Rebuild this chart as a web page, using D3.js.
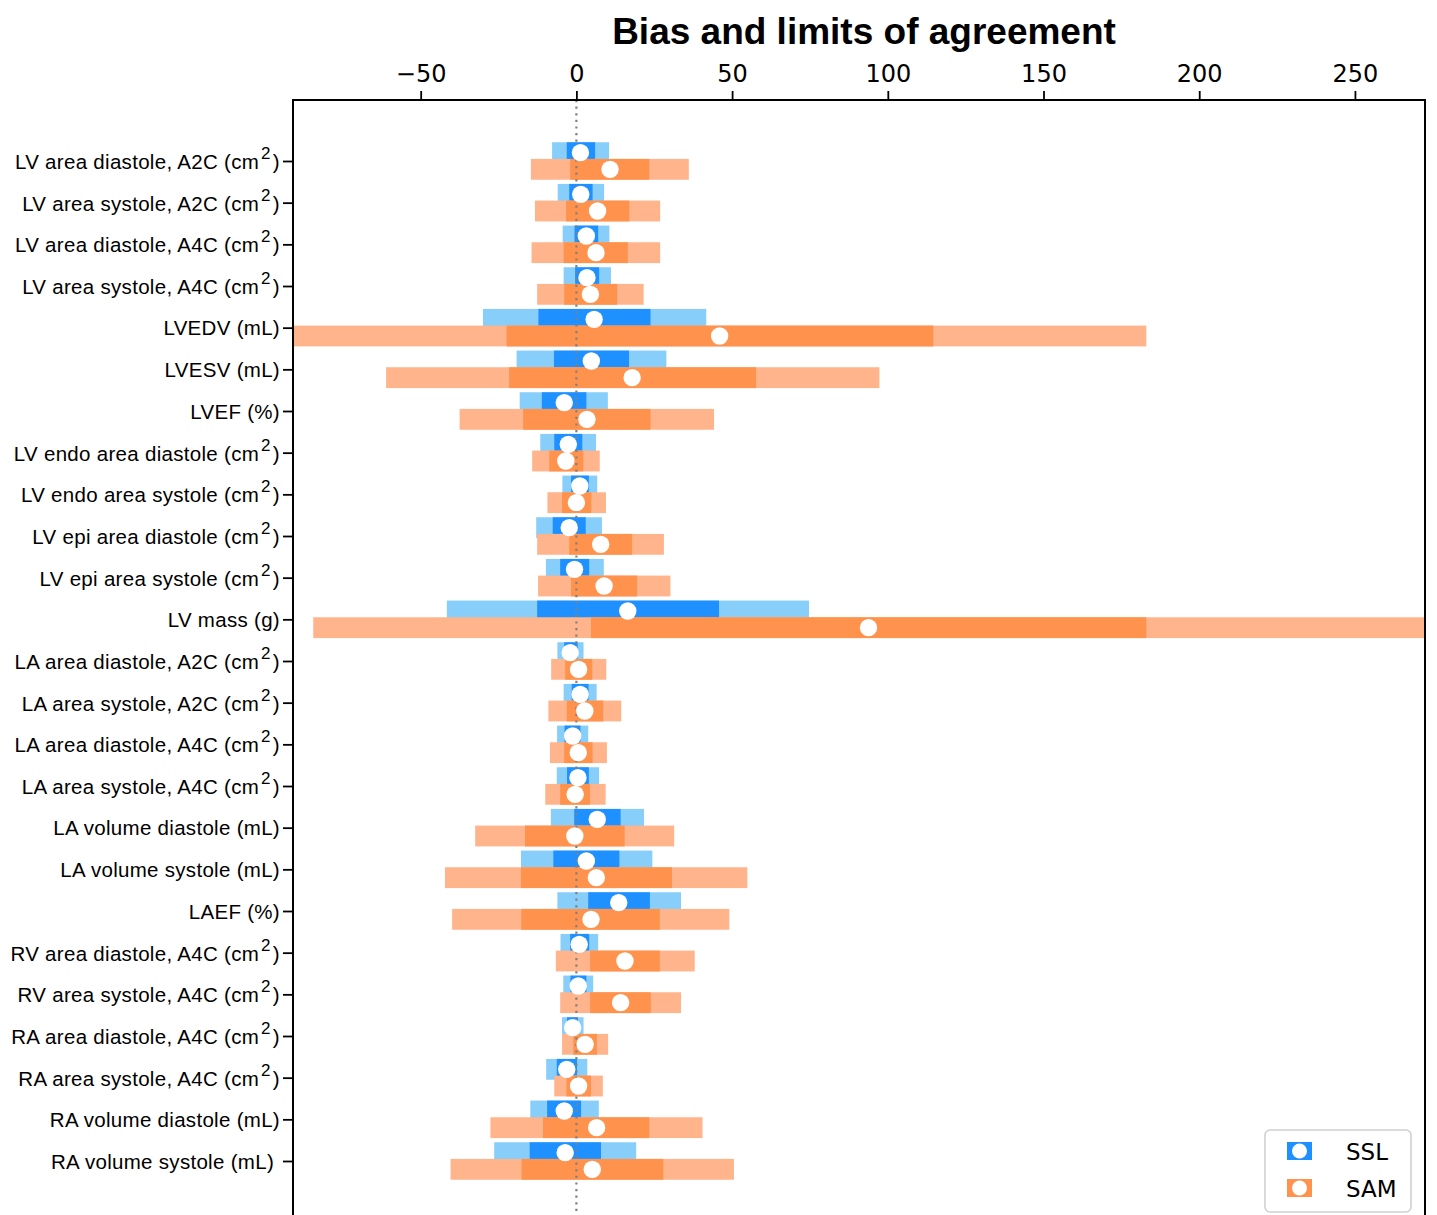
<!DOCTYPE html>
<html>
<head>
  <meta charset="utf-8">
  <title>Bias and limits of agreement</title>
  <script src="https://d3js.org/d3.v7.min.js"></script>
  <style>
    body { margin: 0; background: #fff; }
  </style>
</head>
<body>
  <script>
    // Measurements, top to bottom ("^2" marks a superscript)
    const categories = [
      "LV area diastole, A2C (cm^2)", "LV area systole, A2C (cm^2)",
      "LV area diastole, A4C (cm^2)", "LV area systole, A4C (cm^2)",
      "LVEDV (mL)", "LVESV (mL)", "LVEF (%)",
      "LV endo area diastole (cm^2)", "LV endo area systole (cm^2)",
      "LV epi area diastole (cm^2)", "LV epi area systole (cm^2)",
      "LV mass (g)",
      "LA area diastole, A2C (cm^2)", "LA area systole, A2C (cm^2)",
      "LA area diastole, A4C (cm^2)", "LA area systole, A4C (cm^2)",
      "LA volume diastole (mL)", "LA volume systole (mL)", "LAEF (%)",
      "RV area diastole, A4C (cm^2)", "RV area systole, A4C (cm^2)",
      "RA area diastole, A4C (cm^2)", "RA area systole, A4C (cm^2)",
      "RA volume diastole (mL)", "RA volume systole (mL) "
    ];

    // SSL: bias, inner band (dark) and limits of agreement (light)
    const sslMean    = [1.3, 1.4, 3.2, 3.4, 5.7, 4.8, -3.9, -2.6, 1.1, -2.3, -0.6, 16.5, -2.0, 1.2, -1.2, 0.5, 6.7, 3.2, 13.6, 0.9, 0.6, -1.2, -3.1, -3.9, -3.6];
    const sslInnerLo = [-3.1, -2.3, -0.6, -0.4, -12.2, -7.2, -11.1, -7.1, -1.7, -7.6, -5.2, -12.6, -3.9, -1.5, -3.8, -3.0, -0.7, -7.4, 3.8, -2.0, -1.9, -3.0, -6.3, -9.4, -15.0];
    const sslInnerHi = [6.0, 5.2, 7.0, 7.3, 23.8, 16.9, 3.2, 1.9, 4.0, 3.0, 4.1, 45.8, 0.4, 3.9, 1.3, 4.0, 14.2, 13.8, 23.6, 4.1, 3.2, 0.5, 0.2, 1.5, 7.9];
    const sslOuterLo = [-7.8, -6.0, -4.4, -4.1, -30.0, -19.2, -18.2, -11.6, -4.5, -12.9, -9.8, -41.6, -6.1, -4.1, -6.2, -6.3, -8.2, -17.8, -6.1, -5.1, -4.2, -4.6, -9.7, -14.8, -26.4];
    const sslOuterHi = [10.5, 8.9, 10.6, 11.1, 41.7, 28.9, 10.1, 6.3, 6.7, 8.2, 8.8, 74.7, 2.3, 6.5, 3.8, 7.3, 21.7, 24.4, 33.6, 7.0, 5.4, 2.3, 3.5, 7.2, 19.2];

    // SAM
    const samMean    = [10.8, 6.8, 6.3, 4.5, 46.0, 17.9, 3.4, -3.4, 0.0, 7.8, 8.9, 93.8, 0.7, 2.7, 0.6, -0.4, -0.5, 6.4, 4.7, 15.6, 14.2, 2.8, 0.7, 6.5, 5.1];
    const samInnerLo = [-2.0, -3.3, -4.1, -3.9, -22.4, -21.6, -17.1, -8.7, -4.6, -2.3, -1.7, 4.7, -3.6, -3.1, -3.9, -5.2, -16.5, -17.8, -17.7, 4.4, 4.4, -1.0, -3.2, -10.7, -17.6];
    const samInnerHi = [23.4, 17.0, 16.5, 13.1, 114.6, 57.7, 23.8, 2.2, 4.8, 17.9, 19.5, 183.0, 5.1, 8.6, 5.2, 4.4, 15.5, 30.7, 26.8, 26.8, 23.9, 6.6, 4.7, 23.4, 27.9];
    const samOuterLo = [-14.6, -13.3, -14.4, -12.6, -91.0, -61.1, -37.5, -14.2, -9.3, -12.6, -12.3, -84.5, -8.1, -9.0, -8.5, -10.0, -32.5, -42.2, -39.9, -6.6, -5.2, -4.6, -7.1, -27.6, -40.4];
    const samOuterHi = [36.1, 26.9, 26.9, 21.6, 183.0, 97.3, 44.2, 7.5, 9.5, 28.1, 30.2, 272.5, 9.6, 14.4, 9.8, 9.4, 31.4, 54.9, 49.1, 38.0, 33.6, 10.2, 8.5, 40.5, 50.6];

    const xTicks = [-50, 0, 50, 100, 150, 200, 250];

    const series = [
      { name: "SSL", offset: -0.2, dark: "#1e90ff", light: "#87cefa",
        mean: sslMean, innerLo: sslInnerLo, innerHi: sslInnerHi, outerLo: sslOuterLo, outerHi: sslOuterHi },
      { name: "SAM", offset: 0.2, dark: "#ff924c", light: "#ffb48b",
        mean: samMean, innerLo: samInnerLo, innerHi: samInnerHi, outerLo: samOuterLo, outerHi: samOuterHi }
    ];

    const W = 1437, H = 1215;
    const plotL = 293, plotR = 1425, plotT = 100, plotB = 1222;

    const svg = d3.select("body").append("svg")
      .attr("width", W).attr("height", H);

    const x = d3.scaleLinear().domain([-91, 272.5]).range([plotL, plotR]);
    const y = d3.scaleLinear().domain([-1.464, categories.length - 1 + 1.464]).range([plotT, plotB]);
    const barH = y(0.5) - y(0);

    svg.append("defs").append("clipPath").attr("id", "plot")
      .append("rect").attr("x", plotL).attr("y", plotT)
      .attr("width", plotR - plotL).attr("height", plotB - plotT);

    const plot = svg.append("g").attr("clip-path", "url(#plot)");

    // bars: light limits first, dark band on top, series in order
    series.forEach(function(s) {
      const rows = categories.map(function(c, i) { return i; });
      plot.append("g").selectAll("rect")
        .data(rows).enter().append("rect")
        .attr("x", function(i) { return x(s.outerLo[i]); })
        .attr("width", function(i) { return x(s.outerHi[i]) - x(s.outerLo[i]); })
        .attr("y", function(i) { return y(i + s.offset) - barH / 2; })
        .attr("height", barH)
        .attr("fill", s.light);
      plot.append("g").selectAll("rect")
        .data(rows).enter().append("rect")
        .attr("x", function(i) { return x(s.innerLo[i]); })
        .attr("width", function(i) { return x(s.innerHi[i]) - x(s.innerLo[i]); })
        .attr("y", function(i) { return y(i + s.offset) - barH / 2; })
        .attr("height", barH)
        .attr("fill", s.dark);
    });

    // zero line
    plot.append("line")
      .attr("x1", x(0)).attr("x2", x(0))
      .attr("y1", plotT).attr("y2", plotB)
      .attr("stroke", "#808080")
      .attr("stroke-width", 2.2)
      .attr("stroke-dasharray", "2.2,4.4");

    // bias markers
    series.forEach(function(s) {
      plot.append("g").selectAll("circle")
        .data(s.mean).enter().append("circle")
        .attr("cx", function(d) { return x(d); })
        .attr("cy", function(d, i) { return y(i + s.offset); })
        .attr("r", 8.7)
        .attr("fill", "#fff");
    });

    // top axis
    const xAxis = svg.append("g")
      .attr("transform", "translate(0," + plotT + ")")
      .call(d3.axisTop(x).tickValues(xTicks).tickSize(9).tickPadding(9)
        .tickFormat(function(d) { return d < 0 ? "\u2212" + Math.abs(d) : d; }));
    xAxis.select(".domain").remove();
    xAxis.selectAll(".tick line").attr("stroke", "#000").attr("stroke-width", 1.8);
    xAxis.selectAll(".tick text")
      .attr("font-family", "DejaVu Sans").attr("font-size", 24).attr("fill", "#000");

    // left axis
    const yAxis = svg.append("g")
      .attr("transform", "translate(" + plotL + ",0)")
      .call(d3.axisLeft(y).tickValues(d3.range(categories.length)).tickSize(10).tickPadding(4)
        .tickFormat(""));
    yAxis.select(".domain").remove();
    yAxis.selectAll(".tick line").attr("stroke", "#000").attr("stroke-width", 1.8);

    yAxis.selectAll(".tick").each(function(d) {
      const parts = categories[d].split("^2");
      const t = d3.select(this).append("text")
        .attr("x", -13).attr("y", parts.length > 1 ? 7.5 : 7)
        .attr("text-anchor", "end")
        .attr("font-family", "Liberation Sans, Arial, Helvetica, sans-serif")
        .attr("font-size", 20.5).attr("letter-spacing", 0.3)
        .style("white-space", "pre").attr("fill", "#000");
      t.append("tspan").text(parts[0]);
      if (parts.length > 1) {
        t.append("tspan").attr("dy", -10).attr("font-size", 17).attr("dx", 2).text("2");
        t.append("tspan").attr("dy", 10).attr("dx", 2).text(parts[1]);
      }
    });

    // spines
    svg.append("path")
      .attr("d", "M" + plotL + "," + (plotB + 5) + "V" + plotT + "H" + plotR + "V" + (plotB + 5))
      .attr("fill", "none").attr("stroke", "#000").attr("stroke-width", 2);

    // title
    svg.append("text")
      .attr("x", (plotL + plotR) / 2 + 5).attr("y", 44)
      .attr("text-anchor", "middle")
      .attr("font-family", "Liberation Sans, Arial, Helvetica, sans-serif")
      .attr("font-weight", "bold").attr("font-size", 37)
      .text("Bias and limits of agreement");

    // legend
    const lg = svg.append("g").attr("transform", "translate(1265,1130)");
    lg.append("rect").attr("width", 146).attr("height", 82).attr("rx", 5)
      .attr("fill", "#fff").attr("fill-opacity", 0.85)
      .attr("stroke", "#d0d0d0").attr("stroke-width", 1.6);
    series.forEach(function(s, i) {
      const g = lg.append("g").attr("transform", "translate(0," + (21 + i * 37) + ")");
      g.append("rect").attr("x", 22).attr("y", -9).attr("width", 25).attr("height", 18).attr("fill", s.dark);
      g.append("circle").attr("cx", 34.5).attr("cy", 0).attr("r", 7.5).attr("fill", "#fff");
      g.append("text").attr("x", 81).attr("y", 8.5)
        .attr("font-family", "DejaVu Sans").attr("font-size", 23).attr("fill", "#000")
        .text(s.name);
    });
  </script>
</body>
</html>
